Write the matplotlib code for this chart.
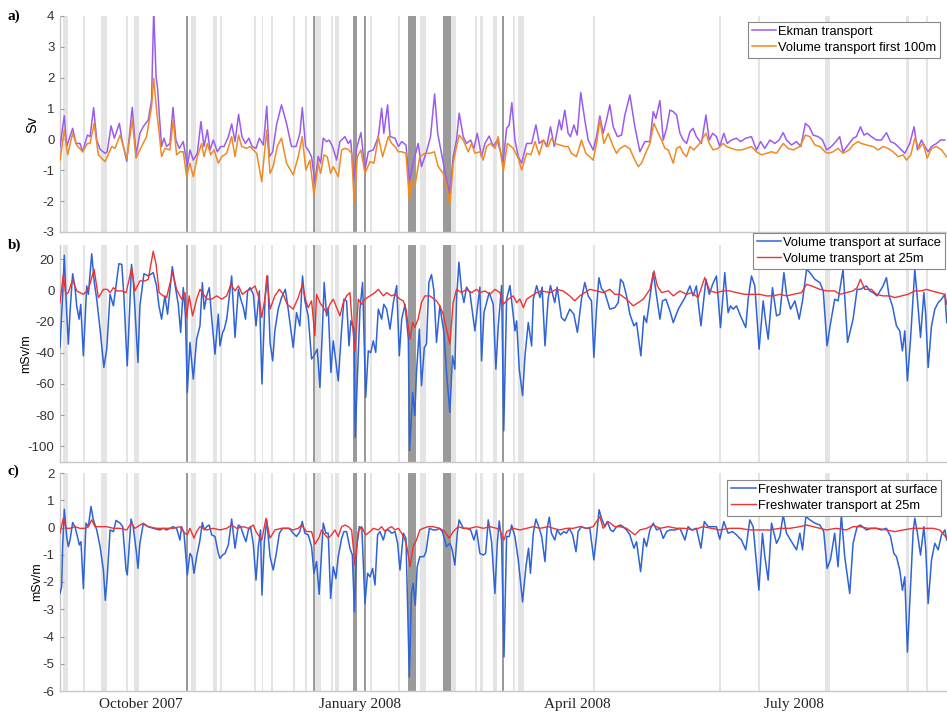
import numpy as np
import matplotlib
matplotlib.use("Agg")
import matplotlib.pyplot as plt
import matplotlib.dates as mdates
import datetime as dt

plt.rcParams["axes.unicode_minus"] = False

# ---------------- data (days since 2007-08-28) ----------------
start_date = dt.datetime(2007, 8, 28)

ekman_days = [0,1.8,2.8,5.3,6.7,8.4,9.5,11.5,12.6,14.1,15.4,16.8,18.9,19.8,21.4,22.8,24.9,26.0,28.0,30.3,31.9,33.5,34.9,37.0,38.4,39.3,40.3,41.0,41.6,42.6,43.6,44.7,46.1,47.4,48.6,50.0,51.7,53.4,54.5,55.9,57.6,59.1,60.4,61.8,62.9,64.3,66.0,67.4,68.8,70.6,72.0,73.4,74.9,76.3,77.8,79.2,80.6,82.2,83.6,85.3,86.7,87.8,89.2,90.8,92.9,95.0,97.1,99.0,100.6,101.6,103.0,104.1,105.5,106.9,108.3,109.3,110.4,111.8,112.9,114.3,116.0,117.4,119.5,120.9,121.9,123.3,124.4,126.2,127.9,129.3,131.4,133.5,134.9,135.8,137.4,138.4,140.5,141.9,143.3,145.1,146.5,148.1,150.2,151.6,153.7,155.4,157.1,158.4,160.0,162.1,163.5,164.9,166.3,167.4,169.1,170.5,172.2,173.6,175.0,176.8,178.2,180.0,181.7,183.4,184.5,185.9,187.3,188.4,189.5,190.8,192.2,193.6,195.7,197.8,199.6,201.0,202.7,204.1,205.7,207.3,209.4,210.3,211.7,213.1,214.1,215.5,216.9,218.4,220.1,221.5,223.6,225.0,226.4,227.8,229.2,230.6,232.0,233.8,235.5,236.9,239.0,241.1,243.2,245.3,247.4,248.8,249.9,251.6,253.0,254.4,255.8,257.2,258.6,260.0,261.4,262.8,264.2,265.5,266.9,269.0,270.9,272.3,273.7,275.3,276.7,278.4,279.8,281.6,283.7,285.4,287.6,290.0,292.1,293.8,295.6,297.7,299.8,301.6,303.3,304.7,306.8,308.9,310.7,312.6,314.2,315.9,318.0,319.8,321.5,323.5,325.4,327.0,328.4,331.0,332.6,334.0,335.7,337.2,338.5,340.3,342.4,344.5,346.6,348.3,350.1,352.2,354.3,356.4,358.2,359.6,361.3,362.7,364.1,365.5,367.6,369.3,371.1]
ekman_sv = [-0.23,0.77,-0.23,0.36,-0.13,-0.13,-0.40,0.14,0.09,1.03,-0.02,-0.32,-0.45,-0.40,0.44,0.04,0.52,-0.02,-0.71,1.04,-0.50,0.20,0.41,0.63,1.28,4.2,2.03,1.60,0.85,-0.23,0.04,-0.23,-0.13,1.04,-0.02,-0.29,-0.07,-0.88,-0.34,-0.67,-0.45,0.58,-0.23,0.31,-0.34,-0.02,-0.40,-0.23,-0.23,0.09,0.50,-0.07,0.81,0.09,-0.13,0.04,-0.23,-0.29,0.04,-0.18,1.08,-0.56,-0.40,0.47,1.12,0.52,-0.23,-0.23,0.20,1.03,-0.23,-0.34,-0.56,-1.40,-0.55,-0.77,0.04,-0.07,-0.02,-0.23,-0.67,-0.07,0.09,-0.13,-0.02,-1.31,-0.29,0.22,-0.99,-0.40,-0.34,0.09,1.01,0.20,1.12,0.09,0.04,-0.23,-0.07,-0.18,-1.37,-0.77,-0.13,-0.88,-0.40,0.09,1.47,0.20,-0.45,-1.31,-1.75,-0.56,-0.02,0.85,0.09,-0.13,-0.02,-0.29,0.20,-0.56,-0.13,0.11,-0.23,-0.02,-0.34,-0.72,0.36,0.47,1.19,-0.02,-0.56,-0.77,-0.13,-0.13,0.47,-0.13,-0.02,-0.23,0.41,-0.23,0.63,0.31,0.95,0.20,0.09,0.47,0.14,1.52,0.63,-0.02,-0.34,0.09,0.76,0.20,0.63,1.12,0.41,0.09,0.14,0.79,1.44,0.41,-0.40,-0.07,-0.07,0.90,0.68,1.26,-0.02,0.36,0.95,0.90,0.79,0.20,-0.02,-0.13,0.25,0.36,0.09,-0.13,0.79,-0.02,0.20,0.09,-0.23,0.20,-0.13,-0.02,0.04,-0.07,0.04,0.09,-0.34,-0.07,-0.29,-0.02,-0.13,-0.02,0.22,-0.02,-0.18,-0.07,-0.23,0.52,0.41,0.14,0.09,-0.02,-0.34,-0.23,-0.07,0.09,-0.40,-0.13,0.04,0.09,0.41,0.14,0.20,0.09,-0.02,-0.02,0.22,-0.07,-0.13,-0.29,-0.45,-0.13,0.41,-0.34,-0.02,-0.23,-0.40,-0.23,-0.13,-0.02,-0.02]

vol100_days = [0,1.8,3.2,5.3,7.0,9.5,11.5,12.6,14.3,16.1,18.9,21.7,23.1,25.2,28.0,30.3,31.9,34.2,36.3,38.4,39.3,40.5,41.6,42.6,44.0,46.1,47.5,48.9,50.3,51.7,53.1,54.5,55.9,57.6,59.4,60.4,61.8,63.2,64.6,66.4,67.8,69.9,72.0,73.4,74.9,76.2,78.3,79.7,81.1,82.5,84.6,86.7,88.1,89.4,91.1,92.9,95.0,97.8,99.9,101.6,103.1,104.8,106.5,108.3,109.3,110.7,112.1,113.5,114.6,116.7,118.1,119.5,120.9,122.3,123.4,124.7,126.2,127.9,130.0,131.7,133.5,135.3,137.7,139.1,140.5,141.9,143.3,145.1,146.5,147.4,148.8,150.9,153.0,155.1,157.0,158.6,160.7,162.1,163.5,164.9,166.3,167.4,169.1,171.2,172.6,174.0,176.1,177.5,178.9,180.6,182.4,183.8,185.9,187.6,190.1,192.2,193.6,195.7,197.5,199.2,201.0,202.7,204.7,206.1,207.5,209.6,211.7,213.1,214.5,216.6,218.7,220.5,222.2,223.6,225.0,226.4,228.1,229.9,232.0,233.4,234.8,236.9,239.0,240.7,242.5,243.9,245.3,247.4,249.1,250.9,252.3,253.7,255.1,257.2,258.6,260.0,261.4,262.8,264.2,265.8,268.3,270.9,272.3,273.9,276.0,278.1,279.5,281.6,283.7,285.8,287.9,290.0,292.1,294.2,296.3,298.4,300.5,303.3,305.4,307.5,310.3,312.6,314.5,316.6,318.7,320.8,322.1,324.2,326.3,328.4,331.0,332.6,334.7,336.1,338.2,341.0,343.1,345.2,347.3,349.4,351.5,353.6,355.0,356.8,358.5,360.3,362.0,363.7,365.5,367.6,369.7,371.8]
vol100_sv = [-0.67,0.31,-0.50,0.20,-0.18,-0.40,-0.13,-0.13,0.52,-0.50,-0.72,-0.23,-0.29,0.14,-0.61,0.63,-0.61,-0.23,0.09,1.06,1.98,0.95,0.20,-0.56,-0.29,-0.34,0.63,-0.50,-0.40,-0.40,-1.21,-0.77,-1.21,-0.56,-0.13,-0.56,-0.13,-0.50,-0.34,-0.77,-0.56,-0.45,0.09,-0.56,0.14,-0.23,-0.29,-0.23,-0.34,-0.45,-1.37,0.31,-1.10,-0.88,-0.23,0.04,-0.77,-1.15,-0.56,0.09,-0.99,-0.67,-1.80,-0.77,-1.10,-0.50,-0.56,-1.10,-0.88,-1.21,-0.34,-0.29,-0.32,-0.45,-2.07,-0.56,-0.34,-1.10,-0.72,-0.77,0.09,-0.56,0.09,-0.13,-0.23,-0.40,-0.40,-0.45,-1.96,-1.31,-1.53,-0.56,-0.45,-0.45,-0.40,-0.88,-1.10,-1.48,-2.12,-0.77,-0.23,0.14,-0.02,-0.40,-0.13,-0.45,-0.40,-0.67,-0.23,-0.13,-0.29,0.09,-1.04,-0.13,-0.29,-0.61,-0.99,-0.45,-0.50,-0.07,-0.50,-0.02,-0.23,0.04,-0.13,-0.18,-0.23,-0.23,-0.45,-0.56,-0.02,-0.45,-0.56,-0.67,-0.13,0.63,-0.13,0.20,-0.23,-0.45,-0.30,-0.20,-0.30,-0.61,-0.88,-0.77,-0.50,-0.13,0.52,0.20,-0.02,-0.29,-0.34,-0.77,-0.29,-0.23,-0.45,-0.56,-0.23,-0.34,-0.13,0.20,-0.13,-0.34,-0.29,-0.13,-0.23,-0.29,-0.34,-0.34,-0.29,-0.23,-0.40,-0.50,-0.45,-0.40,-0.45,-0.13,-0.29,-0.34,-0.23,0.14,0.09,-0.18,-0.23,-0.40,-0.45,-0.40,-0.29,-0.45,-0.34,-0.18,-0.07,-0.13,-0.18,-0.23,-0.34,-0.23,-0.29,-0.40,-0.56,-0.50,-0.67,-0.50,0.04,-0.29,-0.13,-0.61,-0.29,-0.23,-0.34,-0.56]

volsurf_days = [0,1.1,1.8,2.8,3.5,4.2,5.3,6.3,7.0,8.0,8.7,9.8,11.2,11.9,13.3,14.4,15.4,16.8,18.4,19.6,21.0,22.4,24.7,25.9,26.8,27.7,28.2,30.0,30.7,31.9,32.7,33.5,35.2,37.0,39.1,40.5,41.5,42.6,44.0,45.1,47.1,48.2,49.6,50.6,51.7,52.6,53.4,54.5,55.9,57.3,58.7,59.7,60.5,61.5,62.6,63.6,65.0,66.4,67.1,68.2,68.9,69.9,72.0,73.4,74.8,75.8,76.9,77.8,78.7,79.7,81.1,82.2,83.6,84.7,86.0,87.1,88.1,89.2,90.1,91.5,92.9,94.5,95.7,97.8,99.2,100.6,101.7,102.7,104.1,105.5,106.5,107.9,109.0,110.0,110.8,111.8,112.5,113.6,114.6,116.7,118.1,119.1,120.2,121.2,122.0,123.3,123.8,125.1,125.8,126.9,128.2,129.3,130.3,131.4,132.4,133.5,134.9,135.8,137.0,138.4,139.8,141.2,142.3,143.3,144.7,146.1,146.6,147.9,148.8,149.5,150.7,151.6,152.8,153.7,154.7,155.8,156.8,157.9,159.3,161.0,162.1,163.5,164.6,165.6,166.3,167.3,168.4,169.4,170.5,171.9,174.0,175.0,176.1,176.8,177.8,178.9,180.0,181.7,182.8,183.8,185.2,186.1,187.3,188.7,190.8,191.5,192.6,194.0,195.0,196.4,197.8,198.5,199.9,201.3,202.2,203.4,204.7,205.7,207.5,208.5,210.3,211.7,213.8,215.5,217.0,218.7,220.1,221.5,222.9,223.9,225.0,226.0,227.1,228.5,230.6,232.7,234.1,235.1,236.2,237.6,239.0,240.7,241.8,243.6,244.9,246.0,247.4,248.8,250.2,251.6,252.7,254.1,255.8,257.2,259.3,262.1,264.2,265.5,266.9,268.8,270.9,272.3,273.7,275.3,277.0,278.8,280.2,281.2,282.3,283.7,285.4,287.6,288.6,290.0,291.4,293.2,294.9,296.0,297.0,298.8,300.5,301.9,303.6,304.7,306.4,308.2,310.0,311.4,313.1,314.5,316.6,318.7,320.1,321.7,323.1,324.9,326.3,328.4,330.3,332.6,334.3,335.7,338.2,339.6,341.0,342.7,345.2,346.6,347.7,349.1,350.8,352.2,353.3,354.3,355.4,356.7,357.8,358.5,359.6,360.9,362.3,363.1,364.1,365.5,366.9,368.3,369.7,371.1,371.9]
volsurf_msv = [-36.6,-3.6,22.4,-14.3,-34.5,-14.0,10.6,1.7,-10.0,-18.5,-9.0,-42.0,2.8,-2.6,23.4,4.9,-5.7,-24.9,-49.4,-37.7,-2.6,-10.0,17.0,16.6,-3.6,-33.4,-48.4,16.6,7.0,-24.9,-46.2,-10.0,10.6,9.2,11.3,2.8,-10.0,-18.5,-3.6,-15.3,15.1,3.8,-9.0,-27.0,1.7,-16.4,-65.4,-33.4,-56.9,-31.3,-22.8,4.9,-12.1,-3.6,1.7,-17.5,-40.9,-15.3,-35.6,-27.0,-24.9,-18.5,9.2,-30.2,0.6,-5.7,-11.1,-18.5,-0.4,1.7,-2.6,-22.8,-0.4,-60.0,-4.7,9.2,-33.4,-45.2,-26.0,-12.1,-4.7,0.6,-12.1,-36.6,-14.3,-22.8,9.2,-6.8,-16.4,-44.0,-42.0,-37.7,-62.2,-27.0,5.0,-16.4,-11.1,-52.6,-32.4,-58.0,-24.9,-5.7,-6.8,-35.6,-19.6,-24.9,-94.1,-42.0,-12.1,5.0,-68.6,-38.8,-40.0,-32.4,-39.8,-12.1,-18.5,-9.0,-12.1,-24.9,-7.9,3.0,-42.0,-18.5,-9.0,-31.3,-102.7,-65.4,-80.3,-52.6,-24.9,-61.1,-36.6,-34.5,5.0,10.0,0.0,-33.4,-10.0,-27.0,-52.6,-78.2,-42.0,-50.5,-6.0,18.0,0.0,-7.9,2.0,-1.5,-26.0,-12.1,2.0,-45.2,-14.3,-7.9,-1.5,-9.0,-50.5,-22.8,3.0,-90.0,-5.7,3.0,-26.0,-19.6,-50.5,-67.5,-42.0,-20.7,-35.6,-5.7,3.0,-4.7,2.0,-35.6,-5.7,3.0,-7.9,2.0,-17.5,-19.6,-12.1,-15.3,-27.0,-5.7,5.0,-3.6,-6.8,-43.0,-12.1,8.0,1.0,-1.5,-12.1,-11.1,-7.9,7.0,4.9,-3.6,-15.3,-22.8,-20.7,-42.0,-16.4,-20.7,-4.7,11.3,-3.6,-18.5,-6.8,-5.7,-13.2,-20.7,-12.1,-4.7,2.8,-3.6,2.8,-22.8,7.0,-2.6,3.8,9.2,-23.9,11.3,-14.3,-10.0,-12.1,-10.0,-16.4,-23.9,-5.7,9.2,2.8,-37.7,-6.8,-20.7,-31.3,1.7,-16.4,-15.3,11.3,-2.6,-12.1,-6.8,-18.5,-6.8,13.4,11.3,7.0,4.9,-0.4,-35.6,-21.7,-5.7,-6.8,13.4,-33.4,-18.5,0.6,0.6,2.8,-0.4,-1.5,-3.6,2.8,8.1,-3.6,-10.0,-22.8,-26.0,-38.8,-26.0,-58.0,-31.3,-3.6,13.4,-5.7,-30.2,-1.5,-16.4,-49.4,-22.8,-12.1,-7.9,-5.7,-2.6,-20.7]

vol25_days = [0,1.4,2.4,3.5,5.3,7.0,9.8,11.9,14.3,16.1,18.2,19.8,21.0,22.4,23.8,25.9,27.7,28.7,30.0,31.4,33.5,35.6,37.0,39.1,40.3,41.6,43.3,44.7,47.2,48.9,51.0,52.4,53.1,54.2,55.6,57.3,58.7,60.1,61.8,63.6,65.7,67.8,69.9,71.7,73.4,74.8,76.5,78.3,80.1,81.8,83.6,84.6,86.0,86.7,88.1,90.1,92.0,93.6,95.3,97.8,99.9,101.7,103.1,104.1,105.5,106.9,107.6,109.0,110.4,111.8,113.2,114.6,116.0,117.4,118.8,120.2,121.6,122.3,123.7,125.1,126.5,127.9,130.0,132.1,133.5,135.6,137.0,139.1,140.5,142.6,144.0,145.1,146.8,147.9,148.8,150.2,151.6,153.0,155.1,157.9,159.3,160.7,162.1,163.5,164.9,166.3,168.4,170.5,172.6,174.7,176.1,178.2,180.3,182.4,184.5,185.9,188.0,190.1,191.5,192.9,194.3,195.7,197.8,199.9,202.0,205.5,208.2,211.0,213.8,215.9,218.0,220.1,222.2,225.0,227.8,230.6,232.7,234.8,237.6,240.4,242.5,244.6,247.4,249.1,250.5,252.3,255.1,257.2,260.0,262.8,264.9,267.6,270.4,272.5,275.3,278.1,280.9,283.7,287.2,290.7,293.5,296.3,299.1,301.9,304.7,307.5,311.0,313.1,315.2,318.7,321.5,324.9,327.0,329.8,332.6,334.3,335.7,337.5,340.3,342.4,345.2,348.0,350.1,352.9,355.7,358.5,361.3,363.4,365.5,368.3,371.1,371.9]
vol25_msv = [-7.9,10.2,-2.6,-1.5,7.0,-0.4,-2.6,0.6,13.4,-4.7,0.6,0.6,-1.5,1.7,-0.4,-0.4,-1.5,4.9,14.5,-0.4,6.0,6.0,7.0,25.0,16.6,-1.5,-3.6,-4.7,11.3,0.6,-5.7,-1.5,-17.5,-3.6,-16.4,-5.7,0.6,-2.6,-5.7,-5.7,-3.6,-5.7,-3.6,3.8,-0.4,2.8,-2.6,-0.4,0.6,2.8,-5.7,-17.5,-4.7,9.2,-12.1,-3.6,0.6,-2.6,-9.0,-12.1,-4.7,3.8,-6.8,-11.1,-6.8,-29.2,-2.6,-7.9,-11.1,-14.3,-9.0,-5.7,-11.1,-16.4,-7.9,-3.6,-1.5,-16.4,-38.8,-5.7,-9.0,-5.7,-3.6,-1.5,0.6,-3.6,-1.5,-3.6,-2.6,-5.7,-6.8,-12.1,-31.3,-20.7,-23.8,-18.5,-7.9,-3.6,-3.6,-6.8,-10.0,-15.3,-24.9,-34.5,-7.9,0.6,-1.5,0.6,-1.5,0.6,-1.5,-0.4,-2.6,0.6,-1.5,-9.0,-5.7,-3.6,-7.9,-5.7,-11.1,-5.7,-3.6,-1.5,-0.4,-1.5,0.6,-0.4,-3.6,-6.8,-3.6,-1.5,0.6,-0.4,-1.5,0.6,-2.6,-2.6,-5.7,-10.0,-7.9,-5.7,0.6,12.4,2.8,-1.5,-0.4,-3.6,-0.4,-2.6,-1.5,-4.7,8.1,-0.4,-1.5,-0.4,-0.4,-1.5,-2.6,-2.6,-2.6,-3.6,-3.6,-2.6,-3.6,-2.6,-1.5,3.8,2.8,0.6,-0.4,-0.4,-2.6,-1.5,-0.4,1.7,7.0,0.6,0.6,-2.6,-3.6,-3.6,-4.7,-3.6,-2.6,-0.4,-0.4,0.6,-0.4,-1.5,-2.6,-9.0]

fwsurf_days = [0,0.7,1.1,1.8,2.8,3.5,4.2,5.3,6.3,7.3,8.1,8.8,9.8,10.9,11.9,13.0,14.0,15.4,16.8,18.2,19.0,19.8,21.0,22.4,23.5,25.2,26.3,27.7,28.2,29.8,30.7,32.1,32.7,33.5,34.9,37.0,39.1,41.9,43.3,44.7,46.1,47.5,48.9,50.3,51.0,52.0,53.4,54.5,55.3,56.2,57.3,58.7,59.7,60.5,61.5,62.6,63.6,65.0,66.4,67.1,68.2,69.2,70.6,72.0,73.4,74.8,75.8,76.9,78.0,79.0,79.9,81.1,82.2,83.2,84.1,84.7,85.7,86.7,88.1,89.4,90.6,92.0,93.4,94.8,96.2,97.8,99.2,100.6,101.6,102.7,104.1,105.5,106.5,107.6,108.7,110.4,111.5,112.5,113.5,114.6,115.7,116.7,118.1,119.1,120.2,121.6,122.6,123.5,124.4,125.5,126.6,127.9,129.0,130.0,131.1,132.1,133.2,134.2,135.6,136.7,137.7,139.1,140.5,141.6,142.6,144.0,145.1,146.5,147.4,148.1,149.0,149.8,150.9,152.6,153.5,154.9,156.5,157.9,159.0,160.4,162.1,163.5,164.5,165.6,166.6,167.4,169.1,170.5,172.2,173.6,174.7,176.1,177.5,178.5,179.6,181.0,182.4,183.4,184.2,185.2,186.2,187.3,188.4,189.4,190.8,192.2,194.0,195.4,196.5,197.3,198.5,199.6,201.0,202.0,203.4,204.3,205.2,206.1,207.5,208.5,209.9,211.3,212.4,213.6,215.0,216.4,217.3,218.7,220.5,222.2,223.9,225.0,226.1,227.1,228.5,229.5,230.9,232.0,233.4,235.1,236.2,237.6,239.0,240.7,241.8,243.5,244.9,246.0,247.4,248.8,250.2,251.6,253.0,254.4,255.8,257.9,260.0,262.1,263.4,264.9,266.9,268.8,270.2,271.8,273.7,275.3,276.7,278.4,280.2,282.0,283.7,285.8,287.6,289.3,290.7,293.1,294.6,295.6,297.0,298.4,300.5,301.9,303.3,304.7,306.8,308.9,310.3,311.4,312.8,314.5,316.6,318.7,320.3,321.7,323.1,324.9,326.3,327.7,329.1,331.2,332.6,334.3,335.7,338.2,340.3,342.4,344.5,346.6,348.3,349.7,350.8,352.2,353.3,354.3,355.4,356.7,357.8,358.5,359.6,360.9,362.3,363.1,364.1,365.5,366.9,368.3,369.7,371.1,371.9]
fwsurf_msv = [-2.42,-2.17,-0.70,0.67,-0.33,-0.70,-0.46,0.18,0.03,-0.33,-0.64,-0.52,-2.24,0.16,0.03,0.77,0.28,-0.09,-0.70,-1.56,-2.67,-1.81,-0.09,-0.15,0.26,0.16,0.03,-1.56,-1.74,0.31,0.03,-0.95,-1.50,-0.58,0.13,0.03,-0.03,-0.09,-0.03,-0.09,-0.03,0.03,-0.03,-0.46,0.03,-0.21,-1.74,-0.95,-1.07,-1.68,-1.07,-0.46,0.18,-0.09,0.03,0.09,-0.27,-0.33,-0.95,-1.13,-1.01,-0.95,-0.64,0.31,-0.76,0.09,0.03,-0.27,-0.52,-0.09,0.03,-0.64,-1.93,-0.70,-0.09,-2.48,-0.52,0.28,-1.07,-1.56,-1.01,-0.21,-0.03,-0.03,-0.03,-0.21,-0.33,-0.15,0.22,-0.21,-0.27,-0.70,-1.68,-1.25,-2.45,0.16,-0.21,-0.21,-2.60,-1.44,-1.87,-1.07,-0.40,-0.15,-0.15,-0.76,-1.01,-3.10,-0.76,0.03,-0.03,-2.79,-1.68,-1.81,-1.50,-2.11,-0.27,-0.15,-0.46,-0.09,-0.09,-0.21,-0.15,-0.58,-1.56,-0.21,-0.40,-5.49,-2.42,-2.05,-2.85,-1.44,-1.07,-1.07,-0.89,-0.03,-0.09,-0.09,-0.03,-0.15,-0.70,-0.58,-0.82,-1.38,-0.21,0.28,-0.03,-0.03,-0.09,-0.46,-0.09,-0.95,-1.01,-0.95,0.28,-0.52,-2.42,-0.58,0.24,-0.46,-4.75,-0.33,-0.33,0.09,-0.33,-1.19,-2.73,-1.44,-0.76,-1.68,-0.21,0.31,-0.03,-0.33,-1.25,-0.03,0.38,-0.21,-0.46,-0.09,-0.27,-0.15,-0.21,-0.03,-0.27,-0.89,-0.15,0.03,-0.03,-0.03,-1.19,-0.33,0.65,0.34,0.03,0.22,-0.09,-0.15,0.03,0.09,0.03,-0.09,-0.27,-0.76,-0.52,-1.62,-0.40,-0.70,-0.09,0.16,-0.09,-0.03,-0.40,-0.15,-0.09,-0.09,-0.03,-0.46,0.03,-0.09,-0.03,-0.76,0.22,0.03,0.03,0.03,-0.43,0.22,-0.21,-0.15,-0.27,-0.46,-0.82,0.28,0.03,-2.30,-0.21,-1.07,-1.93,0.16,-0.58,-0.33,0.47,-0.21,-0.52,-0.82,-0.21,-0.82,0.40,0.28,0.16,0.09,-0.15,-1.50,-1.19,-0.21,-1.44,0.47,-1.07,-2.42,-0.58,0.03,0.09,-0.09,-0.03,-0.03,-0.09,-0.03,-0.33,-0.95,-1.07,-1.56,-2.30,-1.81,-4.57,-2.17,-0.15,0.34,-0.21,-1.01,0.03,-0.82,-2.79,-1.19,-0.58,-0.82,-0.27,-0.09,-0.46]

fw25_days = [0,1.4,2.5,4.2,6.3,8.4,10.5,11.9,13.3,14.7,16.8,19.6,22.4,25.2,28.0,29.8,31.4,34.9,37.0,40.5,44.7,47.5,50.3,52.4,53.4,54.5,56.2,57.3,58.7,61.5,64.3,67.1,69.9,72.0,74.1,76.9,79.0,81.1,82.2,84.6,86.4,88.1,90.1,92.9,95.7,97.8,99.9,101.3,103.4,105.5,106.9,108.7,109.7,111.1,112.5,113.9,115.3,116.7,118.1,119.5,120.9,122.3,123.7,125.1,126.5,128.2,130.0,131.4,133.5,134.9,136.3,137.7,139.1,140.5,141.9,143.3,144.7,145.6,146.8,148.1,149.5,150.9,152.3,154.4,156.5,159.3,161.4,163.2,164.9,167.0,169.1,171.9,174.7,177.5,180.3,183.1,184.5,186.2,187.3,190.1,192.9,195.7,198.5,201.3,204.7,206.9,209.6,212.4,215.2,218.0,220.8,223.6,226.4,227.8,229.9,232.7,234.8,237.6,241.1,243.2,246.0,248.8,251.6,255.1,258.6,262.1,265.5,269.7,273.2,276.7,280.9,285.1,289.3,293.5,297.7,301.9,306.1,310.3,313.1,315.9,318.7,321.5,325.6,329.8,332.6,335.4,338.9,342.4,346.6,350.1,353.6,357.8,362.0,366.2,369.0,371.9]
fw25_msv = [-0.21,0.34,-0.03,-0.03,0.03,-0.03,-0.03,0.03,0.28,0.03,0.03,0.03,-0.03,-0.03,-0.09,0.16,-0.03,0.16,0.03,-0.03,-0.03,-0.03,0.03,-0.21,-0.27,-0.03,-0.39,-0.15,0.03,-0.09,-0.03,-0.09,-0.03,0.09,-0.03,0.03,-0.03,0.09,-0.15,-0.46,0.34,-0.39,-0.09,-0.03,-0.03,-0.09,-0.03,0.09,-0.15,-0.15,-0.61,-0.36,-0.09,-0.27,-0.39,-0.27,-0.09,-0.33,0.03,0.09,0.03,-0.09,-1.38,-0.15,0.03,-0.27,-0.15,-0.03,-0.09,0.03,-0.15,-0.03,0.03,-0.09,-0.03,-0.21,-0.46,-0.76,-1.44,-0.70,-0.46,-0.09,-0.03,0.03,0.03,-0.03,-0.15,-0.39,-0.15,0.03,-0.03,-0.03,0.03,-0.03,0.03,-0.03,-0.09,-0.46,-0.15,-0.03,-0.09,-0.03,0.03,-0.03,0.03,-0.03,-0.09,-0.03,-0.03,0.03,-0.03,0.03,0.40,-0.03,0.22,0.03,0.03,-0.03,-0.27,-0.09,-0.03,0.09,-0.03,0.03,-0.03,-0.03,-0.09,0.03,-0.03,-0.09,-0.03,-0.03,-0.09,-0.09,-0.09,-0.03,-0.03,0.03,0.09,0.03,-0.03,-0.09,-0.03,-0.09,0.03,0.03,-0.03,-0.03,-0.09,-0.15,-0.09,-0.03,-0.03,-0.03,-0.09,-0.39]

# event shading (days since start): light = episodes, dark = strong episodes
light_band_start = [1.3,9.6,17.2,27.7,31.0,54.9,64.2,67.1,81.3,84.7,88.5,97.7,102.7,106.9,113.6,115.3,130.0,141.7,150.9,163.9,174.0,176.1,181.6,189.9,192.0,223.5,276.3,292.7,320.8,354.7,363.1]
light_band_end   = [3.4,10.5,19.7,28.5,33.1,57.0,65.8,67.9,82.2,85.1,89.3,98.5,103.6,109.4,114.5,117.0,130.8,142.6,153.5,166.0,174.8,177.4,183.2,190.8,194.5,224.3,277.2,293.5,322.9,356.0,363.9]
dark_band_start  = [52.9,106.3,122.9,127.7,145.9,160.6,185.5]
dark_band_end    = [53.5,106.9,124.5,128.3,149.3,163.9,186.4]

xtick_dates = [dt.datetime(2007, 10, 1), dt.datetime(2008, 1, 1), dt.datetime(2008, 4, 1), dt.datetime(2008, 7, 1)]
xtick_labels = ["October 2007", "January 2008", "April 2008", "July 2008"]

# ---------------- plotting ----------------
t0 = mdates.date2num(start_date)
def tx(days):
    return t0 + np.asarray(days, dtype=float)

W, H = 947, 714
fig = plt.figure(figsize=(W / 100, H / 100), dpi=100)

def pos(top, bottom):
    return [60 / W, 1 - bottom / H, 1 - 60 / W, (bottom - top) / H]

ax_a = fig.add_axes(pos(16, 232))
ax_b = fig.add_axes(pos(245, 462))
ax_c = fig.add_axes(pos(473, 691))

light_col = "#e4e4e4"
dark_col = "#9a9a9a"
spine_col = "#c8c8c8"
purple = "#9a5cf0"
orange = "#f08a24"
blue = "#2f63d8"
red = "#ee3333"

for ax in (ax_a, ax_b, ax_c):
    for s, e in zip(light_band_start, light_band_end):
        ax.axvspan(t0 + s, t0 + e, color=light_col, lw=0, zorder=0)
    for s, e in zip(dark_band_start, dark_band_end):
        ax.axvspan(t0 + s, t0 + e, color=dark_col, lw=0, zorder=0.5)
    ax.set_xlim(t0, t0 + 372)
    for sp in ("top", "right"):
        ax.spines[sp].set_visible(False)
    for sp in ("left", "bottom"):
        ax.spines[sp].set_color(spine_col)
        ax.spines[sp].set_linewidth(1.0)
    ax.tick_params(axis="y", direction="in", length=3, color="#999999",
                   labelsize=9.5, labelcolor="#333333", pad=4)
    ax.tick_params(axis="x", length=0)
    ax.set_xticks([mdates.date2num(d) for d in xtick_dates])
    ax.set_xticklabels([])

# panel a
ax_a.plot(tx(ekman_days), ekman_sv, color=purple, lw=1.1, label="Ekman transport", zorder=3)
ax_a.plot(tx(vol100_days), vol100_sv, color=orange, lw=1.1, label="Volume transport first 100m", zorder=3)
ax_a.set_ylim(-3, 4)
ax_a.set_yticks(range(-3, 5))
ax_a.set_ylabel("Sv", family="Liberation Sans", fontsize=10.5)
ax_a.yaxis.set_label_coords((39 - 60) / 887, 0.5)

# panel b
ax_b.plot(tx(volsurf_days), volsurf_msv, color=blue, lw=1.1, label="Volume transport at surface", zorder=3)
ax_b.plot(tx(vol25_days), vol25_msv, color=red, lw=1.0, label="Volume transport at 25m", zorder=4)
ax_b.set_ylim(-110, 29)
ax_b.set_yticks(range(-100, 21, 20))
ax_b.set_ylabel("mSv/m", family="Liberation Sans", fontsize=9)
ax_b.yaxis.set_label_coords((32 - 60) / 887, 0.5)

# panel c
ax_c.plot(tx(fwsurf_days), fwsurf_msv, color=blue, lw=1.1, label="Freshwater transport at surface", zorder=3)
ax_c.plot(tx(fw25_days), fw25_msv, color=red, lw=1.0, label="Freshwater transport at 25m", zorder=4)
ax_c.set_ylim(-6, 2)
ax_c.set_yticks(range(-6, 3))
ax_c.set_ylabel("mSv/m", family="Liberation Sans", fontsize=9)
ax_c.yaxis.set_label_coords((43 - 60) / 887, 0.5)
ax_c.set_xticklabels(xtick_labels, family="Liberation Serif", fontsize=11, color="#222222")
ax_c.tick_params(axis="x", pad=5)

for ax in (ax_a, ax_b, ax_c):
    for lab in ax.get_yticklabels():
        lab.set_family("Liberation Sans")

# legends
leg_kw = dict(loc="upper right", bbox_transform=fig.transFigure, fancybox=False,
              framealpha=1, edgecolor="#888888", borderpad=0.3, labelspacing=0.3,
              handlelength=1.9, handletextpad=0.15, borderaxespad=0,
              prop={"family": "Liberation Sans", "size": 9.3})
lg = ax_a.legend(bbox_to_anchor=(940 / W, 1 - 22 / H), **leg_kw)
lg.get_frame().set_linewidth(0.8)
lg = ax_b.legend(bbox_to_anchor=(945 / W, 1 - 233 / H), **leg_kw)
lg.get_frame().set_linewidth(0.8)
lg.set_zorder(10)
lg = ax_c.legend(bbox_to_anchor=(941 / W, 1 - 480 / H), **leg_kw)
lg.get_frame().set_linewidth(0.8)

# panel labels
for lbl, y in (("a)", 16), ("b)", 245), ("c)", 471)):
    fig.text(8 / W, 1 - y / H, lbl, family="Liberation Serif", fontweight="bold",
             fontsize=11, va="center", ha="left")

ax_b.set_zorder(5)
fig.savefig("out.png", dpi=100)
